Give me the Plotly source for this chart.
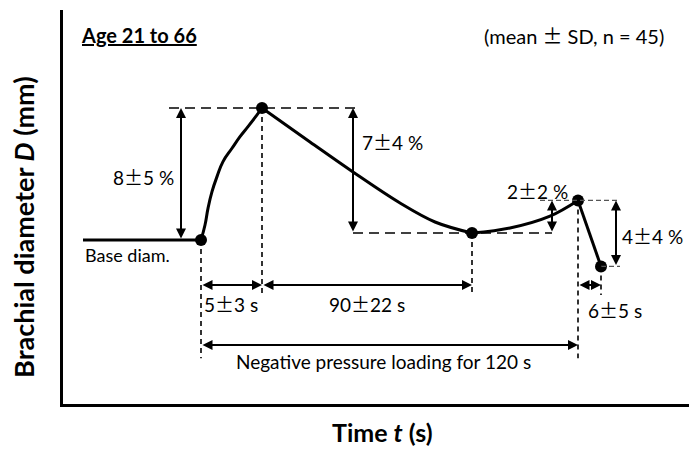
import plotly.graph_objects as go

FONT = "Lato"
PM = "<span style=\"font-family:Noto Sans CJK JP\">\u00b1</span>"

# Schematic time positions along the horizontal axis (not to scale)
base_t = [20, 138]
rise_t = [138, 142, 145, 149, 154, 160, 169, 177, 185, 194, 199]
fall_t = [199, 247, 290, 337, 372, 409]
recov_t = [409, 447, 487, 515]
drop_t = [515, 538]

# Diameter change relative to the base diameter (%)
base_d = [0.0, 0.0]
rise_d = [0.0, 0.91, 1.92, 2.93, 3.84, 4.75, 5.56, 6.26, 6.87, 7.58, 8.0]
fall_d = [8.0, 5.94, 4.12, 2.24, 1.09, 0.42]
recov_d = [0.42, 0.73, 1.45, 2.4]
drop_d = [2.4, -1.6]

# Key events: onset, peak, trough, release, end of recovery
key_t = [138, 199, 409, 515, 538]
key_d = [0.0, 8.0, 0.42, 2.4, -1.6]

# Amplitude labels
amp_labels = ["8" + PM + "5 %", "7" + PM + "4 %", "2" + PM + "2 %", "4" + PM + "4 %"]
# Duration labels
dur_labels = ["5" + PM + "3 s", "90" + PM + "22 s", "6" + PM + "5 s",
              "Negative pressure loading for 120 s"]

# Levels of the horizontal duration arrows (%)
dur_row = -2.73
load_row = -6.36

fig = go.Figure()

curve = dict(color="black", width=3)
fig.add_trace(go.Scatter(x=base_t, y=base_d, mode="lines", line=curve))
fig.add_trace(go.Scatter(x=rise_t, y=rise_d, mode="lines", line=dict(curve, shape="spline", smoothing=1.3)))
fig.add_trace(go.Scatter(x=fall_t, y=fall_d, mode="lines", line=dict(curve, shape="spline")))
fig.add_trace(go.Scatter(x=recov_t, y=recov_d, mode="lines", line=dict(curve, shape="spline")))
fig.add_trace(go.Scatter(x=drop_t, y=drop_d, mode="lines", line=curve))
fig.add_trace(go.Scatter(x=key_t, y=key_d, mode="markers",
                         marker=dict(color="black", size=12), cliponaxis=False))

t_on, t_pk, t_tr, t_rel, t_end = key_t
d_on, d_pk, d_tr, d_rel, d_end = key_d

shapes = []


def dashed(x0, y0, x1, y1, dash, width=1.6, color="black"):
    shapes.append(dict(type="line", xref="x", yref="y", x0=x0, y0=y0, x1=x1, y1=y1,
                       line=dict(color=color, width=width, dash=dash)))


# Reference levels
dashed(t_on - 32, d_pk, t_pk + 96, d_pk, "10px,6px")
dashed(t_pk + 91, d_tr, t_tr + 80, d_tr, "10px,6px")
dashed(t_tr + 68, d_rel, t_rel + 42, d_rel, "5px,3px", width=1.2, color="#555")
dashed(t_end, d_end, t_rel + 42, d_end, "5px,3px", width=1.2, color="#555")

# Time markers
dashed(t_on, d_on, t_on, load_row - 0.8, "5px,4px")
dashed(t_pk, d_pk, t_pk, dur_row - 0.6, "5px,4px")
dashed(t_tr, d_tr, t_tr, dur_row - 0.6, "5px,4px")
dashed(t_rel, d_rel, t_rel, load_row - 0.8, "5px,4px")
dashed(t_end, d_end, t_end, dur_row - 0.6, "5px,4px")

annotations = []


def double_arrow(x0, y0, x1, y1):
    annotations.append(dict(x=x1, y=y1, ax=x0, ay=y0, xref="x", yref="y", axref="x", ayref="y",
                            text="", showarrow=True, arrowside="end+start",
                            arrowhead=2, startarrowhead=2, arrowsize=1, startarrowsize=1,
                            arrowwidth=2, arrowcolor="black", standoff=0, startstandoff=0))


def label(x, y, text, size=19, xanchor="center", xref="x", yref="y", **kw):
    annotations.append(dict(x=x, y=y, xref=xref, yref=yref, text=text, showarrow=False,
                            xanchor=xanchor, yanchor="middle",
                            font=dict(family=FONT, size=size, color="black"), **kw))


# Amplitude arrows and labels
double_arrow(t_on - 20, d_on, t_on - 20, d_pk)
label(t_on - 58, 3.82, amp_labels[0])
double_arrow(t_pk + 91, d_tr, t_pk + 91, d_pk)
label(t_pk + 98, 5.94, amp_labels[1], xanchor="left")
double_arrow(t_tr + 80, d_tr, t_tr + 80, d_rel)
label(t_tr + 65, 3.03, amp_labels[2])
double_arrow(t_rel + 38, d_end, t_rel + 38, d_rel)
label(t_rel + 42, 0.3, amp_labels[3], xanchor="left")

# Duration arrows and labels
double_arrow(t_on, dur_row, t_pk, dur_row)
label(t_on + 30, -3.82, dur_labels[0])
double_arrow(t_pk, dur_row, t_tr, dur_row)
label(t_pk + 105, -3.82, dur_labels[1])
double_arrow(t_rel, dur_row, t_end, dur_row)
label(t_rel + 37, -4.24, dur_labels[2])
double_arrow(t_on, load_row, t_rel, load_row)
label(320, -7.39, dur_labels[3])

label(base_t[0], -0.91, "Base diam.", size=18, xanchor="left")
label(16, 12.42, "<b><u>Age 21 to 66</u></b>", size=20, xanchor="left")
label(603, 12.42, "(mean " + PM + " SD, n = 45)", size=20, xanchor="right")

# Axis titles
label(-0.062, 0.45, "<b>Brachial diameter <i>D</i> (mm)</b>", size=27,
      xref="paper", yref="paper", textangle=-90)
label(0.511, -0.072, "<b>Time <i>t</i> (s)</b>", size=25, xref="paper", yref="paper")

# Arrowhead on top of the vertical axis
annotations.append(dict(x=0, y=1.008, ax=0, ay=1.0 - 0.06, xref="paper", yref="paper",
                        axref="x domain", ayref="y domain", text="", showarrow=True,
                        arrowhead=2, arrowsize=1, arrowwidth=2, arrowcolor="black"))

fig.update_layout(
    width=689, height=450,
    margin=dict(l=63, r=0, t=10, b=46),
    paper_bgcolor="white", plot_bgcolor="white",
    showlegend=False,
    shapes=shapes, annotations=annotations,
    font=dict(family=FONT, color="black"),
    xaxis=dict(range=[0, 626], showgrid=False, zeroline=False, showticklabels=False,
               ticks="", showline=True, linecolor="black", linewidth=2.5),
    yaxis=dict(range=[-9.94, 13.94], showgrid=False, zeroline=False, showticklabels=False,
               ticks="", showline=True, linecolor="black", linewidth=2.5),
)

fig.write_html("out.html")
